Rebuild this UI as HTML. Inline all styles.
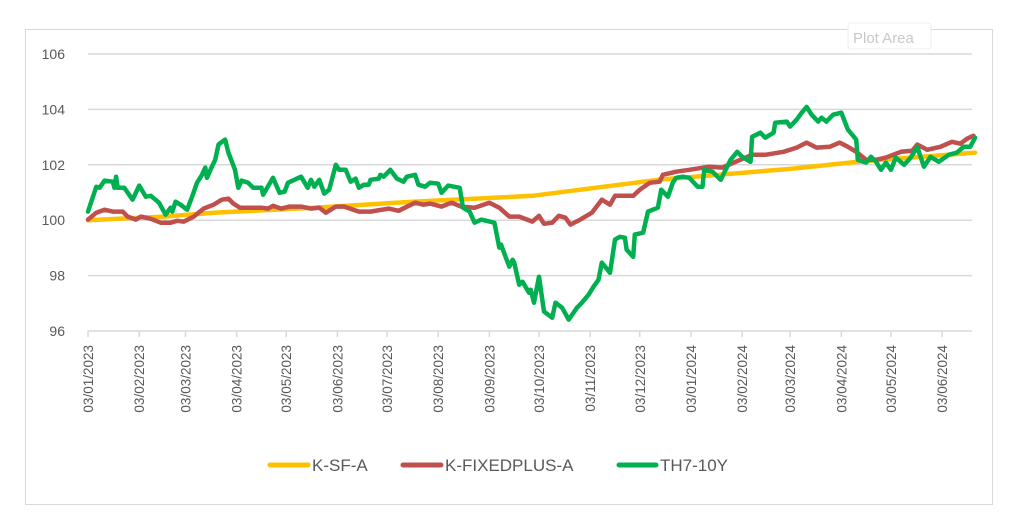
<!DOCTYPE html>
<html><head><meta charset="utf-8"><style>
body{margin:0;background:#fff;}
svg{display:block;font-family:"Liberation Sans",Arial,sans-serif;}
</style></head><body>
<svg id="chart" width="1015" height="529" viewBox="0 0 1015 529">
<rect x="25.5" y="29.5" width="967" height="475" fill="#fff" stroke="#d9d9d9"/>
<g id="grid"></g>
<g id="yaxis"></g>
<g id="xaxis"></g>
<g id="series"></g>
<g font-size="17" fill="#595959">
<g><line x1="270" y1="465" x2="308" y2="465" stroke="#FFC000" stroke-width="5" stroke-linecap="round"/><text x="312" y="471">K-SF-A</text></g>
<g><line x1="403" y1="465" x2="441" y2="465" stroke="#C0504D" stroke-width="5" stroke-linecap="round"/><text x="445" y="471">K-FIXEDPLUS-A</text></g>
<g><line x1="619" y1="465" x2="656" y2="465" stroke="#00B050" stroke-width="5" stroke-linecap="round"/><text x="660" y="471">TH7-10Y</text></g>
</g>
<g>
<rect x="848" y="23" width="83" height="26" rx="3" fill="#fff" stroke="#eee"/>
<text x="853" y="43" font-size="15" fill="#c8c8c8">Plot Area</text>
</g>
</svg>
<script>
const yTicks=[96,98,100,102,104,106];
const xTickDays=[0,31,59,90,120,151,181,212,243,273,304,334,365,396,425,456,486,517];
const xTickLabels=["03/01/2023","03/02/2023","03/03/2023","03/04/2023","03/05/2023","03/06/2023","03/07/2023","03/08/2023","03/09/2023","03/10/2023","03/11/2023","03/12/2023","03/01/2024","03/02/2024","03/03/2024","03/04/2024","03/05/2024","03/06/2024"];
const ksfDays=[0,46,76,137,198,269,345,426,466,537];
const ksfVals=[100,100.13,100.27,100.45,100.67,100.88,101.46,101.86,102.11,102.44];
const kfpDays=[0,5,10,15,21,24,29,32,38,44,50,54,58,64,70,76,81,85,88,92,105,109,112,117,122,129,135,140,144,150,155,164,171,182,188,198,203,207,214,220,226,234,243,249,255,261,269,273,276,281,285,289,292,298,305,311,316,319,330,334,340,346,348,356,364,376,384,392,402,410,421,429,435,441,449,455,460,465,471,477,483,492,499,502,508,516,523,528,532,536];
const kfpVals=[100.02,100.27,100.38,100.31,100.31,100.13,100.02,100.13,100.05,99.91,99.91,99.98,99.95,100.13,100.42,100.56,100.74,100.78,100.6,100.45,100.45,100.42,100.52,100.42,100.49,100.49,100.42,100.45,100.27,100.49,100.49,100.31,100.31,100.42,100.34,100.63,100.56,100.6,100.49,100.63,100.49,100.45,100.63,100.45,100.13,100.13,99.95,100.16,99.87,99.91,100.16,100.09,99.84,100.02,100.27,100.74,100.56,100.88,100.88,101.1,101.35,101.39,101.64,101.75,101.82,101.93,101.9,102.11,102.36,102.36,102.47,102.62,102.8,102.62,102.65,102.8,102.65,102.47,102.18,102.18,102.26,102.47,102.51,102.73,102.54,102.65,102.83,102.76,102.94,103.05];
const thDays=[0,5,7,10,15,16,17,18,22,27,31,35,38,43,47,50,51,53,56,60,63,66,69,71,72,75,77,79,83,85,89,91,93,97,100,105,106,112,116,119,121,129,133,135,137,140,143,146,150,152,156,159,162,164,167,170,171,176,177,179,183,187,191,193,198,200,204,207,212,214,218,225,227,231,234,238,246,249,250,255,257,258,261,263,267,268,270,273,276,281,283,287,291,296,299,303,306,309,311,316,319,322,325,326,330,331,336,339,345,347,351,354,356,360,364,369,372,373,378,383,389,393,396,401,402,407,410,415,416,423,425,429,432,435,438,442,444,447,451,456,460,465,466,471,474,477,480,483,486,489,494,498,502,506,510,515,521,526,530,534,537];
const thVals=[100.31,101.21,101.17,101.43,101.39,101.17,101.57,101.17,101.17,100.74,101.25,100.85,100.88,100.63,100.2,100.45,100.31,100.67,100.56,100.38,100.85,101.35,101.64,101.9,101.53,101.93,102.18,102.73,102.91,102.44,101.82,101.17,101.43,101.35,101.17,101.17,100.92,101.53,100.99,101.03,101.35,101.57,101.17,101.46,101.21,101.46,100.96,101.1,102,101.82,101.82,101.39,101.5,101.17,101.28,101.28,101.46,101.5,101.64,101.57,101.82,101.5,101.39,101.57,101.64,101.28,101.21,101.35,101.32,100.99,101.25,101.17,100.45,100.31,99.91,100.02,99.91,99.01,99.12,98.32,98.57,98.47,97.67,97.78,97.38,97.49,97.02,97.96,96.7,96.48,97.02,96.84,96.41,96.84,97.02,97.31,97.6,97.85,98.47,98.1,99.3,99.4,99.37,98.94,98.68,99.48,99.55,100.31,100.45,101.1,100.85,101.35,101.53,101.57,101.53,101.21,101.21,101.82,101.75,101.46,102.18,102.47,102.29,102.11,103.01,103.16,102.98,103.16,103.52,103.56,103.38,103.63,103.88,104.09,103.81,103.56,103.7,103.56,103.81,103.88,103.27,102.91,102.18,102.08,102.29,102.11,101.82,102.08,101.82,102.26,102,102.26,102.65,101.93,102.29,102.11,102.36,102.44,102.65,102.65,102.98];

const NS="http://www.w3.org/2000/svg";
const X0=88,PXD=1.652,YTOP=54,YBOT=331,YMIN=96,YMAX=106;
function xs(d){return X0+d*PXD;}
function ys(v){return YBOT-(v-YMIN)/(YMAX-YMIN)*(YBOT-YTOP);}
function mk(tag,attrs,parent){const e=document.createElementNS(NS,tag);for(const k in attrs)e.setAttribute(k,attrs[k]);parent.appendChild(e);return e;}
const grid=document.getElementById('grid'),ya=document.getElementById('yaxis'),xa=document.getElementById('xaxis'),ser=document.getElementById('series');
yTicks.forEach(v=>{
  if(v!==YMIN){const g=mk('line',{x1:X0,x2:972,y1:ys(v),y2:ys(v),stroke:'#d9d9d9','stroke-width':1.5},grid);
  
  }
  const t=mk('text',{x:65,y:ys(v)+5,'text-anchor':'end','font-size':14,fill:'#595959'},ya);
  
  
  t.textContent=v;
});
const ax=mk('line',{x1:X0,x2:972,y1:YBOT,y2:YBOT,stroke:'#d9d9d9','stroke-width':1.5},xa);


xTickDays.forEach((d,i)=>{
  const x=xs(d);
  const tk=mk('line',{x1:x,x2:x,y1:YBOT,y2:YBOT+6,stroke:'#d9d9d9','stroke-width':1.5},xa);
  
  
  const t=mk('text',{x:0,y:0,'text-anchor':'end','font-size':13.5,fill:'#595959',transform:`translate(${x+5},345) rotate(-90)`},xa);
  
  
  t.textContent=xTickLabels[i];
});
function line(days,vals,color,name){
  const d=days.map((dd,i)=>(i?'L':'M')+xs(dd).toFixed(1)+' '+ys(vals[i]).toFixed(1)).join(' ');
  const p=mk('path',{d:d,fill:'none',stroke:color,'stroke-width':4.5,'stroke-linejoin':'round','stroke-linecap':'round'},ser);
  
  
}
line(ksfDays,ksfVals,'#FFC000','series-k-sf-a');
line(kfpDays,kfpVals,'#C0504D','series-k-fixedplus-a');
line(thDays,thVals,'#00B050','series-th7-10y');
</script>
</body></html>
